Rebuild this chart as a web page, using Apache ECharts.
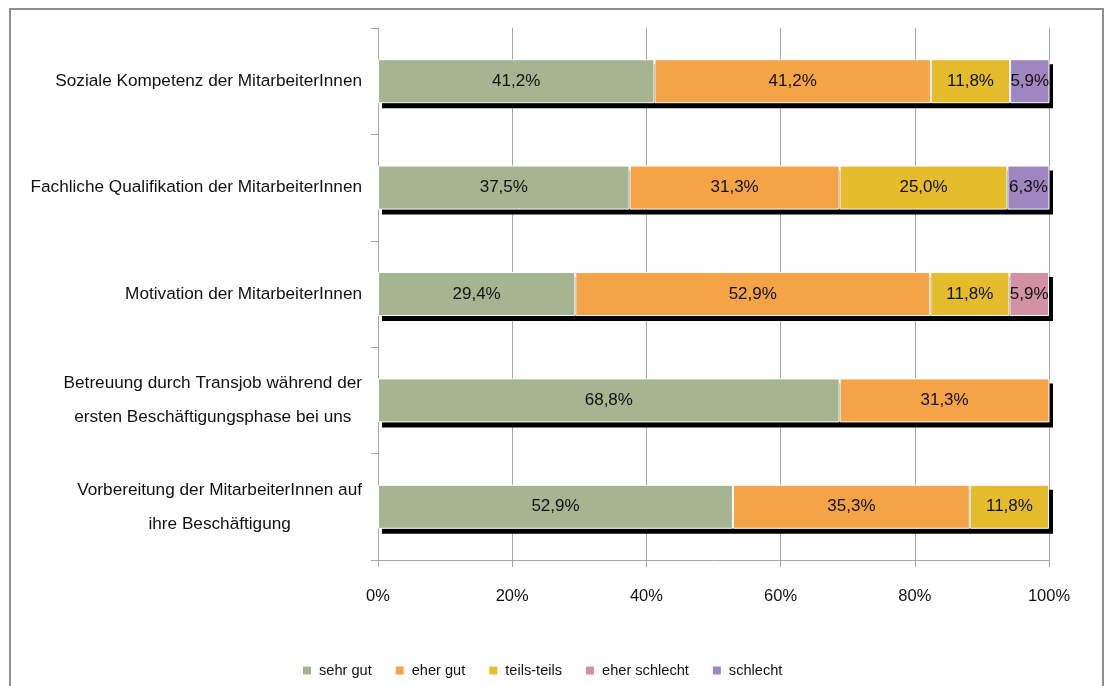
<!DOCTYPE html>
<html>
<head>
<meta charset="utf-8">
<style>
  html, body { margin: 0; padding: 0; background: #fff; }
  #chart { width: 1107px; height: 686px; }
</style>
<script src="https://cdn.jsdelivr.net/npm/echarts@6/dist/echarts.min.js"></script>
</head>
<body>
<div id="chart"></div>
<script>
// Rating questions, listed top to bottom
const categories = [
  'Soziale Kompetenz der MitarbeiterInnen',
  'Fachliche Qualifikation der MitarbeiterInnen',
  'Motivation der MitarbeiterInnen',
  'Betreuung durch Transjob während der\nersten Beschäftigungsphase bei uns',
  'Vorbereitung der MitarbeiterInnen auf\nihre Beschäftigung'
];

// Answer shares in percent per question (null = no answers)
const sehrGut      = [41.2, 37.5, 29.4, 68.8, 52.9];
const eherGut      = [41.2, 31.3, 52.9, 31.3, 35.3];
const teilsTeils   = [11.8, 25.0, 11.8, null, 11.8];
const eherSchlecht = [null, null, 5.9, null, null];
const schlecht     = [5.9, 6.3, null, null, null];

const seriesNames = ['sehr gut', 'eher gut', 'teils-teils', 'eher schlecht', 'schlecht'];
const seriesData = [sehrGut, eherGut, teilsTeils, eherSchlecht, schlecht];
const seriesColors = ['#a5b592', '#f4a447', '#e5bc2b', '#d291a5', '#9e86c0'];

const xTicks = [0, 20, 40, 60, 80, 100];

const FONT = '"Liberation Sans", Arial, sans-serif';
const GRID = '#a6a6a6';
const TEXT = '#111111';
const BAR_H = 44;

const chart = echarts.init(document.getElementById('chart'));

const pct = (v) => v.toFixed(1).replace('.', ',') + '%';

// Row totals (capped at 100 %) for the drop shadow behind each stacked bar
const rowTotals = categories.map((_, r) =>
  Math.min(100, seriesData.reduce((s, arr) => s + (arr[r] || 0), 0))
);

const shadowSeries = {
  type: 'custom',
  name: 'shadow',
  silent: true,
  z: 1,
  encode: { x: 0, y: 1 },
  data: rowTotals.map((t, r) => [t, r]),
  renderItem: (params, api) => {
    const start = api.coord([0, api.value(1)]);
    const end = api.coord([api.value(0), api.value(1)]);
    return {
      type: 'rect',
      shape: { x: start[0] + 4, y: start[1] - BAR_H / 2 + 5, width: end[0] - start[0], height: BAR_H },
      style: { fill: '#000000' }
    };
  }
};

const fillSeries = seriesNames.map((name, i) => ({
  name: name,
  type: 'bar',
  stack: 'fill',
  barWidth: BAR_H,
  data: seriesData[i],
  itemStyle: {
    color: seriesColors[i],
    borderColor: '#ffffff',
    borderWidth: 1
  },
  label: {
    show: true,
    position: 'inside',
    fontFamily: FONT,
    fontSize: 17,
    color: TEXT,
    formatter: (p) => p.value == null ? '' : pct(p.value)
  },
  emphasis: { disabled: true },
  z: 2
}));

chart.setOption({
  animation: false,
  backgroundColor: '#ffffff',
  textStyle: { fontFamily: FONT },
  graphic: [{
    type: 'rect',
    shape: { x: 10, y: 9, width: 1093, height: 720 },
    style: { fill: 'none', stroke: '#8f8f8f', lineWidth: 2 },
    silent: true,
    z: -10
  }],
  grid: { left: 378, right: 58, top: 28, bottom: 126, containLabel: false, outerBoundsMode: 'none' },
  legend: {
    data: seriesNames,
    left: 296,
    top: 658,
    icon: 'rect',
    itemWidth: 10,
    itemHeight: 10,
    itemGap: 22,
    textStyle: { fontFamily: FONT, fontSize: 14.6, color: TEXT, padding: [0, 0, 0, 2] }
  },
  xAxis: {
    type: 'value',
    min: xTicks[0],
    max: xTicks[xTicks.length - 1],
    interval: 20,
    axisLine: { show: true, lineStyle: { color: GRID, width: 1 } },
    axisTick: { show: true, length: 7, lineStyle: { color: GRID } },
    splitLine: { show: true, lineStyle: { color: GRID, width: 1 } },
    axisLabel: {
      margin: 28,
      fontFamily: FONT,
      fontSize: 16.5,
      color: TEXT,
      formatter: '{value}%'
    }
  },
  yAxis: {
    type: 'category',
    inverse: true,
    data: categories,
    axisLine: { show: true, lineStyle: { color: GRID, width: 1 } },
    axisTick: { show: true, length: 7, lineStyle: { color: GRID } },
    splitLine: { show: false },
    axisLabel: {
      margin: 16,
      color: TEXT,
      formatter: (v) => v.split('\n').map(line => '{c|' + line + '}').join('\n'),
      rich: {
        c: {
          fontFamily: FONT,
          fontSize: 17.2,
          lineHeight: 34,
          align: 'center',
          color: TEXT
        }
      }
    }
  },
  series: [shadowSeries].concat(fillSeries)
});
</script>
</body>
</html>
